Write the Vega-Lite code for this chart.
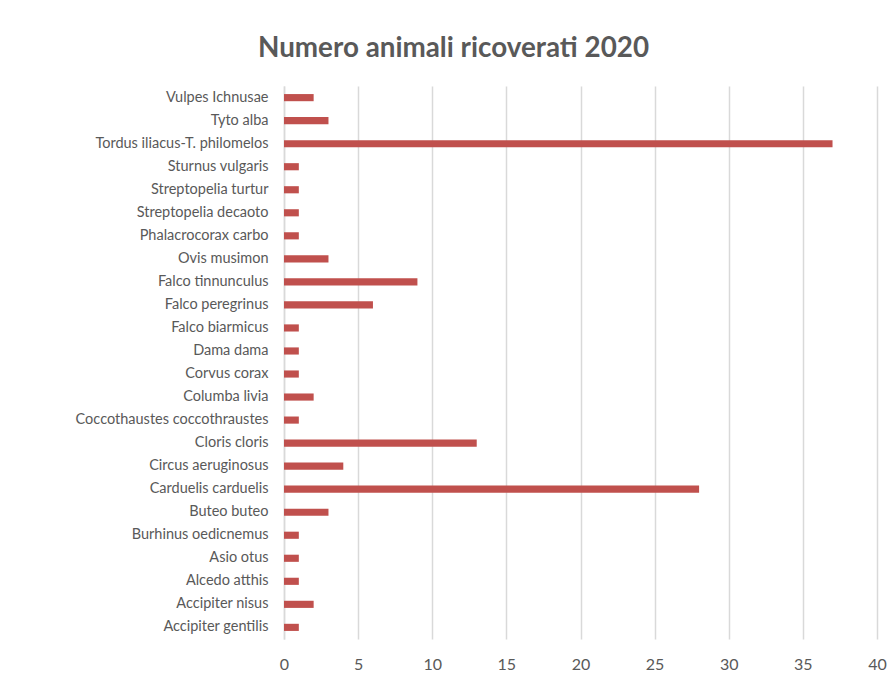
{
  "$schema": "https://vega.github.io/schema/vega-lite/v6.json",
  "autosize": "none",
  "width": 593,
  "height": 553,
  "padding": {"left": 284, "top": 86, "right": 14, "bottom": 42},
  "background": "white",
  "title": {
    "text": "Numero animali ricoverati 2020",
    "anchor": "middle",
    "frame": "group",
    "dx": -127,
    "offset": 23,
    "fontSize": 27.8,
    "font": "Lato",
    "fontWeight": "bold",
    "color": "#595959"
  },
  "data": {
    "values": [
      {"specie": "Vulpes Ichnusae", "n": 2},
      {"specie": "Tyto alba", "n": 3},
      {"specie": "Tordus iliacus-T. philomelos", "n": 37},
      {"specie": "Sturnus vulgaris", "n": 1},
      {"specie": "Streptopelia turtur", "n": 1},
      {"specie": "Streptopelia decaoto", "n": 1},
      {"specie": "Phalacrocorax carbo", "n": 1},
      {"specie": "Ovis musimon", "n": 3},
      {"specie": "Falco tinnunculus", "n": 9},
      {"specie": "Falco peregrinus", "n": 6},
      {"specie": "Falco biarmicus", "n": 1},
      {"specie": "Dama dama", "n": 1},
      {"specie": "Corvus corax", "n": 1},
      {"specie": "Columba livia", "n": 2},
      {"specie": "Coccothaustes coccothraustes", "n": 1},
      {"specie": "Cloris cloris", "n": 13},
      {"specie": "Circus aeruginosus", "n": 4},
      {"specie": "Carduelis carduelis", "n": 28},
      {"specie": "Buteo buteo", "n": 3},
      {"specie": "Burhinus oedicnemus", "n": 1},
      {"specie": "Asio otus", "n": 1},
      {"specie": "Alcedo atthis", "n": 1},
      {"specie": "Accipiter nisus", "n": 2},
      {"specie": "Accipiter gentilis", "n": 1}
    ]
  },
  "mark": {"type": "bar", "color": "#C0504D"},
  "encoding": {
    "y": {
      "field": "specie",
      "type": "nominal",
      "sort": null,
      "scale": {"paddingInner": 0.69, "paddingOuter": 0.35},
      "axis": {
        "title": null,
        "ticks": false,
        "domain": true,
        "domainColor": "#D9D9D9",
        "domainWidth": 1.5,
        "labelPadding": 16,
        "labelFont": "Lato",
        "labelFontSize": 14.5,
        "labelColor": "#595959",
        "labelLimit": 300
      }
    },
    "x": {
      "field": "n",
      "type": "quantitative",
      "scale": {"domain": [0, 40]},
      "axis": {
        "title": null,
        "values": [0, 5, 10, 15, 20, 25, 30, 35, 40],
        "ticks": false,
        "domain": false,
        "grid": true,
        "gridColor": "#D9D9D9",
        "gridWidth": 1.5,
        "labelPadding": 17,
        "labelFont": "Lato",
        "labelFontSize": 16,
        "labelColor": "#595959",
        "labelFlush": false
      }
    }
  },
  "config": {"view": {"stroke": null}}
}
